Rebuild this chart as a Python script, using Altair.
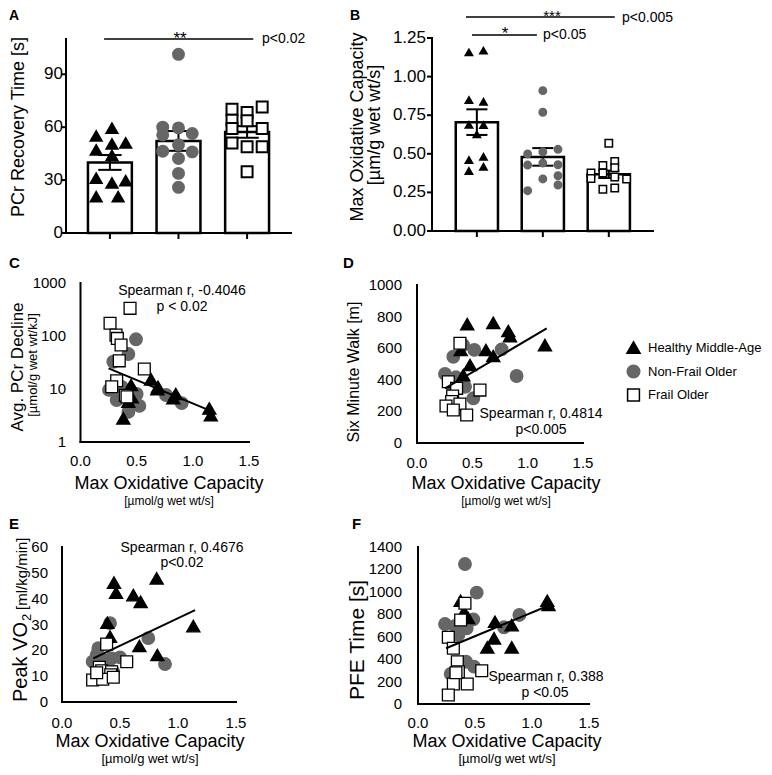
import altair as alt
import pandas as pd

FONT = "Liberation Sans"
W, H = 756, 759
M = 8

GROUPS = ["Healthy Middle-Age", "Non-Frail Older", "Frail Older"]

# ---------------- Panel A: PCr recovery time [s]
a_means = [40.0, 52.2, 57.3]
a_sem = [4.2, 5.6, 3.3]
a_tri = [55, 59.4, 47, 50.4, 51, 44, 31, 28.3, 29.6, 20.5, 20.5]
a_tri_jit = [-0.2, 0.03, -0.2, 0.03, 0.23, 0.03, -0.2, 0.03, 0.23, -0.2, 0.12]
a_cir = [101.3, 60, 59.6, 55.6, 56.4, 50, 46.4, 46, 42.3, 33.8, 25.9]
a_cir_jit = [0, -0.23, 0, -0.23, 0.2, 0, -0.23, 0.2, 0, 0, 0]
a_sq = [70.2, 68.3, 71.5, 64, 63.6, 59.3, 59.3, 51, 48.9, 48.9, 34.7]
a_sq_jit = [-0.22, 0, 0.22, -0.22, 0, -0.22, 0.22, -0.22, 0, 0.22, 0]
a_ticks = [0, 30, 60, 90]

# ---------------- Panel B: max oxidative capacity
b_means = [0.705, 0.48, 0.367]
b_sem = [0.083, 0.057, 0.024]
b_tri = [1.157, 1.168, 0.848, 0.837, 0.688, 0.686, 0.626, 0.46, 0.481, 0.389, 0.416]
b_tri_jit = [-0.12, 0.1, -0.12, 0.1, -0.12, 0.1, 0, -0.12, 0.1, -0.12, 0.1]
b_cir = [0.909, 0.769, 0.499, 0.512, 0.529, 0.427, 0.44, 0.429, 0.337, 0.358, 0.298, 0.261]
b_cir_jit = [0, 0, -0.23, 0, 0.23, -0.23, 0, 0.23, 0, 0.23, 0.23, -0.23]
b_sq = [0.568, 0.425, 0.45, 0.376, 0.376, 0.41, 0.34, 0.35, 0.337, 0.27, 0.279]
b_sq_jit = [0, -0.09, 0.09, -0.27, -0.09, 0.09, -0.27, 0.09, 0.27, -0.09, 0.09]
b_ticks = [0, 0.25, 0.5, 0.75, 1.0, 1.25]

# ---------------- Panel C: Avg PCr decline vs max oxidative capacity
c_tri_x = [0.45, 0.628, 0.684, 0.848, 0.826, 1.147, 1.16, 0.381, 0.426, 0.456, 0.69]
c_tri_y = [11.9, 15.2, 9.9, 8.05, 6.7, 4.3, 3.2, 2.8, 5.8, 7.0, 11.0]
c_cir_x = [0.494, 0.426, 0.292, 0.254, 0.322, 0.5, 0.524, 0.426, 0.761, 0.901, 0.367, 0.46]
c_cir_y = [86.7, 45.7, 32.7, 9.6, 6.2, 8.05, 4.8, 3.7, 7.7, 5.4, 11.0, 6.5]
c_sq_x = [0.441, 0.263, 0.316, 0.328, 0.361, 0.345, 0.568, 0.322, 0.278, 0.399, 0.414]
c_sq_y = [333, 174, 104, 90, 67.6, 34, 23.8, 14.3, 11, 7.6, 7.1]
c_fit_x = [0.25, 1.18]
c_fit_y = [24.5, 3.7]
c_ticks = [1, 10, 100, 1000]

# ---------------- Panel D: six minute walk
d_tri_x = [0.454, 0.689, 0.825, 0.84, 1.156, 0.623, 0.689, 0.479, 0.418, 0.395]
d_tri_y = [753, 761, 709, 677, 620, 589, 551, 494, 430, 589]
d_cir_x = [0.418, 0.328, 0.518, 0.765, 0.9, 0.253, 0.352, 0.434, 0.509, 0.313]
d_cir_y = [620, 546, 589, 593, 424, 437, 416, 356, 283, 367]
d_sq_x = [0.388, 0.283, 0.358, 0.569, 0.322, 0.313, 0.262, 0.388, 0.328, 0.449]
d_sq_y = [631, 388, 346, 335, 297, 262, 234, 247, 209, 177]
d_fit_x = [0.253, 1.172]
d_fit_y = [346, 725]
d_ticks = [0, 200, 400, 600, 800, 1000]

# ---------------- Panel E: peak VO2
e_tri_x = [0.816, 0.448, 0.466, 0.615, 0.678, 1.132, 0.391, 0.414, 0.667, 0.822]
e_tri_y = [47.9, 46.2, 42.3, 41.4, 38.8, 29.4, 30.7, 25.3, 21.7, 18.2]
e_cir_x = [0.414, 0.744, 0.313, 0.299, 0.428, 0.5, 0.264, 0.888, 0.356, 0.37, 0.442]
e_cir_y = [30.5, 24.7, 20.8, 18.2, 16.9, 17.3, 15.6, 14.7, 16.3, 13, 11.7]
e_sq_x = [0.385, 0.558, 0.322, 0.342, 0.428, 0.42, 0.264, 0.351, 0.442, 0.299]
e_sq_y = [22.4, 15.6, 13.4, 12.1, 11.7, 10.5, 8.5, 8.8, 9.6, 11.3]
e_fit_x = [0.27, 1.147]
e_fit_y = [16.9, 35.6]
e_ticks = [0, 10, 20, 30, 40, 50, 60]

# ---------------- Panel F: PFE time
f_tri_x = [0.374, 0.404, 1.134, 1.145, 0.675, 0.822, 0.667, 0.608, 0.822, 0.44]
f_tri_y = [921, 823, 921, 883, 734, 704, 586, 505, 505, 767]
f_cir_x = [0.412, 0.515, 0.237, 0.325, 0.485, 0.427, 0.354, 0.889, 0.754, 0.421, 0.491, 0.287]
f_cir_y = [1248, 993, 713, 696, 755, 675, 615, 794, 684, 377, 333, 268]
f_sq_x = [0.412, 0.374, 0.266, 0.31, 0.345, 0.354, 0.559, 0.31, 0.432, 0.266, 0.333]
f_sq_y = [898, 749, 595, 497, 377, 288, 297, 178, 178, 80, 279]
f_fit_x = [0.246, 1.158]
f_fit_y = [497, 883]
f_ticks = [0, 200, 400, 600, 800, 1000, 1200, 1400]

x_ticks = [0, 0.5, 1.0, 1.5]


def P(v):
    """page pixel -> canvas pixel"""
    return v - M


LEG = alt.Legend(title=None, orient="none", legendX=P(634) - 8, legendY=P(348) - 8,
                 symbolSize=210, symbolStrokeWidth=1.5, labelFontSize=13, labelFont=FONT,
                 labelColor="black", rowPadding=5, labelOffset=7, padding=0, labelLimit=200)
SHAPE = alt.Shape("group:N", scale=alt.Scale(domain=GROUPS, range=["triangle-up", "circle", "square"]), legend=LEG)
FILL = alt.Fill("group:N", scale=alt.Scale(domain=GROUPS, range=["#000000", "#666666", "#ffffff"]), legend=LEG)
STROKE = alt.Stroke("group:N", scale=alt.Scale(domain=GROUPS, range=["#000000", "#666666", "#000000"]), legend=LEG)


def group_df(vals, xcol, ycol):
    rows = []
    for g, (xs, ys) in zip(GROUPS, vals):
        for a, b in zip(xs, ys):
            rows.append({"group": g, xcol: a, ycol: b})
    return pd.DataFrame(rows)


def txt(s, x, y, size=14, angle=0, align="center", baseline="alphabetic", weight="normal"):
    return alt.Chart(pd.DataFrame({"t": [s]})).mark_text(
        font=FONT, fontSize=size, angle=angle, align=align, baseline=baseline,
        fontWeight=weight, color="black").encode(text="t:N", x=alt.value(x), y=alt.value(y))


def axes_layers(xs, ys, xdom, ydom, ax_px, ay_px, yt, ylabels, ylab_x, ysize,
                xt=None, xlabels=None, xlab_y=None, xsize=15, tick=False):
    """Axis lines, ticks and labels drawn through the panel's own scales."""
    out = []
    ydf = pd.DataFrame({"lo": [ydom[0]], "hi": [ydom[1]]})
    xdf = pd.DataFrame({"lo": [xdom[0]], "hi": [xdom[1]]})
    out.append(alt.Chart(ydf).mark_rule(color="black", strokeWidth=2, strokeCap="square").encode(
        x=alt.value(ax_px), y=alt.Y("lo:Q", scale=ys, axis=None), y2="hi:Q"))
    out.append(alt.Chart(xdf).mark_rule(color="black", strokeWidth=2, strokeCap="square").encode(
        y=alt.value(ay_px), x=alt.X("lo:Q", scale=xs, axis=None), x2="hi:Q"))
    ylab = pd.DataFrame({"v": yt, "lab": ylabels})
    if tick:
        out.append(alt.Chart(ylab).mark_rule(color="black", strokeWidth=2).encode(
            x=alt.value(ax_px - 5), x2=alt.value(ax_px), y=alt.Y("v:Q", scale=ys, axis=None)))
    out.append(alt.Chart(ylab).mark_text(font=FONT, fontSize=ysize, align="right", baseline="middle",
                                         color="black").encode(
        x=alt.value(ylab_x), y=alt.Y("v:Q", scale=ys, axis=None), text="lab:N"))
    if xt is not None:
        xlab = pd.DataFrame({"v": xt, "lab": xlabels if xlabels is not None else [""] * len(xt)})
        if tick:
            out.append(alt.Chart(xlab).mark_rule(color="black", strokeWidth=2).encode(
                y=alt.value(ay_px), y2=alt.value(ay_px + 6), x=alt.X("v:Q", scale=xs, axis=None)))
        if xlabels is not None:
            out.append(alt.Chart(xlab).mark_text(font=FONT, fontSize=xsize, align="center", baseline="top",
                                                 color="black").encode(
                x=alt.X("v:Q", scale=xs, axis=None), y=alt.value(xlab_y), text="lab:N"))
    return out


def bar_panel(means, sems, groups_pts, xdom, xr, ydom, yr, yvals, ylabels, ylab_x,
              msize, sw, capw, sig, sig_y):
    xs = alt.Scale(domain=xdom, range=xr, nice=False, zero=False)
    ys = alt.Scale(domain=ydom, range=yr, nice=False, zero=False)
    bdf = pd.DataFrame({"g": [0, 1, 2], "mean": means, "sem": sems})
    bdf["left"] = bdf["g"] - 0.32
    bdf["right"] = bdf["g"] + 0.32
    bdf["base"] = 0.0
    bdf["lo"] = bdf["mean"] - bdf["sem"]
    bdf["hi"] = bdf["mean"] + bdf["sem"]
    bdf["cl"] = bdf["g"] - capw
    bdf["cr"] = bdf["g"] + capw
    bars = alt.Chart(bdf).mark_rect(fill="white", stroke="black", strokeWidth=2.5).encode(
        x=alt.X("left:Q", scale=xs, axis=None), x2="right:Q",
        y=alt.Y("mean:Q", scale=ys, axis=None), y2="base:Q")
    vbar = alt.Chart(bdf).mark_rule(color="black", strokeWidth=2).encode(
        x=alt.X("g:Q", scale=xs, axis=None), y=alt.Y("lo:Q", scale=ys, axis=None), y2="hi:Q")
    caplo = alt.Chart(bdf).mark_rule(color="black", strokeWidth=2).encode(
        x=alt.X("cl:Q", scale=xs, axis=None), x2="cr:Q", y=alt.Y("lo:Q", scale=ys, axis=None))
    caphi = alt.Chart(bdf).mark_rule(color="black", strokeWidth=2).encode(
        x=alt.X("cl:Q", scale=xs, axis=None), x2="cr:Q", y=alt.Y("hi:Q", scale=ys, axis=None))
    rows = []
    for gi, (g, (vals, jit)) in enumerate(zip(GROUPS, groups_pts)):
        for v, j in zip(vals, jit):
            rows.append({"group": g, "gx": gi + j, "v": v})
    pdf = pd.DataFrame(rows)
    pts = alt.Chart(pdf).mark_point(filled=True, opacity=1, size=msize, strokeWidth=sw).encode(
        x=alt.X("gx:Q", scale=xs, axis=None), y=alt.Y("v:Q", scale=ys, axis=None),
        shape=SHAPE, fill=FILL, stroke=STROKE)
    sdf = pd.DataFrame({"x1": [s[0] for s in sig], "x2": [s[1] for s in sig], "y": sig_y})
    sigl = alt.Chart(sdf).mark_rule(color="black", strokeWidth=1.5).encode(
        x=alt.X("x1:Q", scale=xs, axis=None), x2="x2:Q", y=alt.Y("y:Q", scale=ys, axis=None))
    ax = axes_layers(xs, ys, xdom, ydom, xr[0], yr[0], yvals, ylabels, ylab_x, 17,
                     xt=[0, 1, 2], tick=True)
    return alt.layer(bars, vbar, caplo, caphi, pts, sigl, *ax)


def scatter_panel(tri, cir, sq, fit, xr, ydom, yr, yvals, ylab_x, xlab_y, ylog=False):
    xs = alt.Scale(domain=[0, 1.5], range=xr, nice=False, zero=False)
    if ylog:
        ys = alt.Scale(type="log", domain=ydom, range=yr, nice=False)
    else:
        ys = alt.Scale(domain=ydom, range=yr, nice=False, zero=False)
    df = group_df([tri, cir, sq], "x", "y")
    order = {GROUPS[1]: 0, GROUPS[0]: 1, GROUPS[2]: 2}
    df["o"] = df["group"].map(order)
    df = df.sort_values("o", kind="stable")
    pts = alt.Chart(df).mark_point(filled=True, opacity=1, strokeWidth=1.3).encode(
        x=alt.X("x:Q", scale=xs, axis=None), y=alt.Y("y:Q", scale=ys, axis=None),
        shape=SHAPE, fill=FILL, stroke=STROKE,
        size=alt.Size("group:N", scale=alt.Scale(domain=GROUPS, range=[175, 140, 125]), legend=None))
    fdf = pd.DataFrame({"x": fit[0], "y": fit[1]})
    line = alt.Chart(fdf).mark_line(color="black", strokeWidth=2).encode(
        x=alt.X("x:Q", scale=xs, axis=None), y=alt.Y("y:Q", scale=ys, axis=None))
    ax = axes_layers(xs, ys, [0, 1.5], ydom, xr[0], yr[0], yvals, [str(v) for v in yvals], ylab_x, 15,
                     xt=x_ticks, xlabels=[f"{v:.1f}" for v in x_ticks], xlab_y=xlab_y, xsize=15)
    return alt.layer(pts, line, *ax)


panelA = bar_panel(a_means, a_sem, [(a_tri, a_tri_jit), (a_cir, a_cir_jit), (a_sq, a_sq_jit)],
                   [-0.64, 2.64], [P(66), P(291)], [0, 110], [P(233), P(39)],
                   a_ticks, [str(v) for v in a_ticks], P(63),
                   120, 2, 0.17, [(-0.085, 2.09)], [110])
panelB = bar_panel(b_means, b_sem, [(b_tri, b_tri_jit), (b_cir, b_cir_jit), (b_sq, b_sq_jit)],
                   [-0.68, 2.67], [P(432), P(653)], [0, 1.25], [P(231), P(38)],
                   b_ticks, [f"{v:.2f}" for v in b_ticks], P(426),
                   55, 1.5, 0.16, [(-0.165, 2.09), (-0.074, 0.91)], [1.386, 1.269])
panelC = scatter_panel((c_tri_x, c_tri_y), (c_cir_x, c_cir_y), (c_sq_x, c_sq_y), (c_fit_x, c_fit_y),
                       [P(80.5), P(249)], [1, 1000], [P(442), P(283)], c_ticks, P(66), P(454), ylog=True)
panelD = scatter_panel((d_tri_x, d_tri_y), (d_cir_x, d_cir_y), (d_sq_x, d_sq_y), (d_fit_x, d_fit_y),
                       [P(417), P(583)], [0, 1000], [P(443), P(285)], d_ticks, P(402), P(456))
panelE = scatter_panel((e_tri_x, e_tri_y), (e_cir_x, e_cir_y), (e_sq_x, e_sq_y), (e_fit_x, e_fit_y),
                       [P(62), P(236)], [0, 60], [P(702), P(547)], e_ticks, P(48), P(716))
panelF = scatter_panel((f_tri_x, f_tri_y), (f_cir_x, f_cir_y), (f_sq_x, f_sq_y), (f_fit_x, f_fit_y),
                       [P(418), P(589)], [0, 1400], [P(704), P(547)], f_ticks, P(402), P(716))

texts = [
    # panel letters
    txt("A", 1, 12, 14, align="left", weight="bold"),
    txt("B", P(350), 12, 14, align="left", weight="bold"),
    txt("C", 1, P(268), 15, align="left", weight="bold"),
    txt("D", P(343), P(268), 15, align="left", weight="bold"),
    txt("E", 1, P(529), 15, align="left", weight="bold"),
    txt("F", P(352), P(529), 15, align="left", weight="bold"),
    # A
    txt("PCr Recovery Time [s]", 2, P(127), 18, angle=270, baseline="top"),
    txt("**", P(180), P(44), 17),
    txt("p<0.02", P(262), P(39), 14, align="left", baseline="middle"),
    # B
    txt("Max Oxidative Capacity", P(349), P(127), 18, angle=270, baseline="top"),
    txt("[µm/g wet wt/s]", P(366), P(125), 18, angle=270, baseline="top"),
    txt("***", P(552), P(21), 15),
    txt("p<0.005", P(622), P(18), 14, align="left", baseline="middle"),
    txt("*", P(505), P(39), 17),
    txt("p<0.05", P(543), P(35), 14, align="left", baseline="middle"),
    # C
    txt("Avg. PCr Decline", 2, P(367), 17, angle=270, baseline="top"),
    txt("[µmol/g wet wt/kJ]", P(27), P(365), 13, angle=270, baseline="top"),
    txt("Spearman r, -0.4046", P(182), P(291), 14, baseline="middle"),
    txt("p < 0.02", P(182), P(307), 14, baseline="middle"),
    txt("Max Oxidative Capacity", P(169), P(489), 18),
    txt("[µmol/g wet wt/s]", P(169), P(505), 12),
    # D
    txt("Six Minute Walk [m]", P(346), P(372), 16, angle=270, baseline="top"),
    txt("Spearman r, 0.4814", P(541), P(414), 14, baseline="middle"),
    txt("p<0.005", P(541), P(430), 14, baseline="middle"),
    txt("Max Oxidative Capacity", P(506), P(489), 18),
    txt("[µmol/g wet wt/s]", P(506), P(505), 12),
    # E
    txt("Peak VO", 19, P(702), 20, angle=270, align="left"),
    txt("2", 23, P(702) - 81, 13, angle=270, align="left"),
    txt("[ml/kg/min]", 19, P(702) - 92, 15, angle=270, align="left"),
    txt("Spearman r, 0.4676", P(182), P(548), 14, baseline="middle"),
    txt("p<0.02", P(182), P(563), 14, baseline="middle"),
    txt("Max Oxidative Capacity", P(150), P(747), 18),
    txt("[µmol/g wet wt/s]", P(150), P(763), 13),
    # F
    txt("PFE Time [s]", P(347), P(640), 21, angle=270, baseline="top"),
    txt("Spearman r, 0.388", P(546), P(677), 14, baseline="middle"),
    txt("p <0.05", P(545), P(693), 14, baseline="middle"),
    txt("Max Oxidative Capacity", P(507), P(747), 18),
    txt("[µmol/g wet wt/s]", P(507), P(763), 13),
]

chart = alt.layer(panelA, panelB, panelC, panelD, panelE, panelF, *texts).resolve_scale(
    x="independent", y="independent").properties(
    width=W, height=H, autosize=alt.AutoSizeParams(type="none"), padding=0
).configure_view(strokeWidth=0)

chart.save("out.html", embed_options={"renderer": "svg", "actions": False})
